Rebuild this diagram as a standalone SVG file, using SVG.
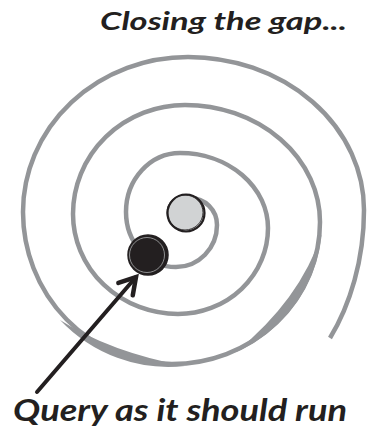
<svg xmlns="http://www.w3.org/2000/svg" width="367" height="434" viewBox="0 0 367 434">
  <style>
    .spiral { fill: none; stroke: #939598; stroke-width: 4.5; stroke-linecap: butt; }
    .thick { fill: #939598; stroke: none; }
    .label { font-family: "Lato", "Open Sans", "DejaVu Sans", sans-serif; font-weight: 700; font-style: italic; fill: #231f20; }
    .ink { stroke: #231f20; }
  </style>
  <defs>
    <marker id="chev" markerUnits="userSpaceOnUse" orient="auto" overflow="visible" markerWidth="20" markerHeight="20" refX="0" refY="0">
      <path d="M -16 -9.5 L 0 0 L -16 9.5" fill="none" stroke="#231f20" stroke-width="4.5" stroke-linecap="round" stroke-linejoin="miter"/>
    </marker>
  </defs>
  <rect width="367" height="434" fill="#ffffff"/>

  <g id="spiral">
    <path class="spiral" stroke-width="3.5" d="M 190 198 A 27 27 0 0 1 217 225 A 41 42 0 0 1 176 267 A 50 55 0 0 1 126 212 A 54 59 0 0 1 180 153"/>
    <path class="spiral" d="M 180 153 A 88 75 0 0 1 268 228 A 90 86 0 0 1 178 314 A 105 100 0 0 1 73 214 A 112 109 0 0 1 185 105 A 135 117 0 0 1 320 222 A 148 142 0 0 1 172 364 A 149 152 0 0 1 23 212 A 165 155 0 0 1 188 57 A 176 153 0 0 1 364 210 C 364 260 350 305 330 338"/>
    <path class="thick" d="M 321.4 234.6 A 150 144 0 0 1 235.4 352.5 Q 300 300 321.4 234.6 Z"/>
    <path class="thick" d="M 185 366 A 151 154 0 0 1 60 320 Q 110 352 185 366 Z"/>
  </g>

  <g id="target">
    <circle cx="186" cy="213" r="18.5" fill="#d1d3d4" stroke="#231f20" stroke-width="2.2"/>
    <ellipse cx="185" cy="212.5" rx="18" ry="17.5" fill="none" stroke="#231f20" stroke-width="0.9"/>
  </g>

  <g id="query">
    <circle cx="148" cy="255" r="20" fill="#231f20" stroke="#231f20" stroke-width="1.5"/>
    <ellipse cx="147" cy="255" rx="17.5" ry="17.5" fill="none" stroke="#bcbec0" stroke-width="0.7"/>
  </g>

  <g id="connectors">
    <path d="M 37 392 L 136 277" fill="none" stroke="#231f20" stroke-width="4" stroke-linecap="round" marker-end="url(#chev)"/>
  </g>

  <g id="labels">
    <text class="label" x="100" y="30" font-size="25" textLength="247" lengthAdjust="spacingAndGlyphs">Closing the gap...</text>
    <text class="label" x="13" y="421" font-size="30" textLength="334" lengthAdjust="spacingAndGlyphs">Query as it should run</text>
  </g>
</svg>
